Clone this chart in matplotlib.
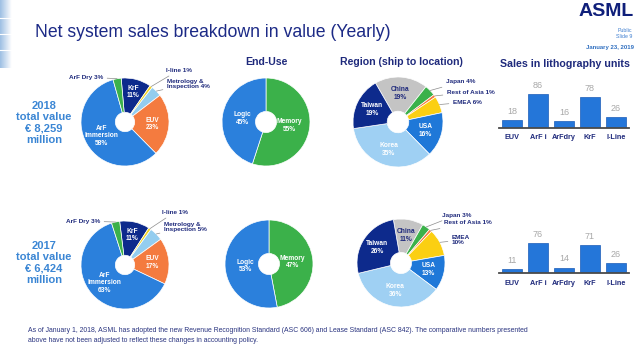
import matplotlib
matplotlib.use("Agg")
import matplotlib.pyplot as plt
import numpy as np

plt.rcParams['font.family'] = ['Liberation Sans', 'DejaVu Sans']

# ---- data ----
tech_labels = ["KrF", "I-line", "Metrology &\nInspection", "EUV", "ArF\nImmersion", "ArF Dry"]
tech_2018 = [11, 1, 4, 23, 58, 3]
tech_2017 = [11, 1, 5, 17, 63, 3]

end_labels = ["Memory", "Logic"]
end_2018 = [55, 45]
end_2017 = [47, 53]

region_labels = ["China", "Japan", "Rest of Asia", "EMEA", "USA", "Korea", "Taiwan"]
region_2018 = [19, 4, 1, 6, 16, 35, 19]
region_2017 = [11, 3, 1, 10, 13, 36, 26]

litho_types = ["EUV", "ArF i", "ArFdry", "KrF", "I-Line"]
units_2018 = [18, 86, 16, 78, 26]
units_2017 = [11, 76, 14, 71, 26]

totals = {"2018": "€ 8,259", "2017": "€ 6,424"}

# ---- colours ----
NAVY = '#1f2a7c'
TITLE = '#1c2a86'
YEARBLUE = '#3b86d4'
tech_colors = ['#0d2a8c', '#f2d21e', '#93cdef', '#f47b3f', '#2b80dc', '#3bb14a']
end_colors = ['#3bb14a', '#2b80dc']
region_colors = ['#c4c4c4', '#3bb14a', '#f47b3f', '#fbcf12', '#1f78d8', '#9fd0f3', '#0d2a8c']
BAR = '#2476d9'
BAR_EDGE = '#1a5cb8'
LEADER = '#8c8c8c'

W, H = 640, 346
fig = plt.figure(figsize=(6.4, 3.46), dpi=100)
bg = fig.add_axes([0, 0, 1, 1])

# faint blue strip at the left edge of the slide
grad = np.linspace(0, 1, 20)[None, :] * np.ones((40, 1))
bg.imshow(grad, extent=(0, 12, 68, 0), cmap=matplotlib.colors.LinearSegmentedColormap.from_list('s', ['#9fc0e4', '#ffffff']), aspect='auto')
for yy in [18, 34, 50]:
    bg.plot([0, 12], [yy, yy], color='white', lw=0.8)
bg.set_xlim(0, W)
bg.set_ylim(H, 0)
bg.axis('off')


def px_axes(x0, y0, w, h):
    return fig.add_axes([x0 / W, 1 - (y0 + h) / H, w / W, h / H])


def mid_point(w, r):
    a = np.deg2rad((w.theta1 + w.theta2) / 2)
    return r * np.cos(a), r * np.sin(a)


def donut(cx, cy, r, values, colors, start, hole=0.24):
    ax = px_axes(cx - r, cy - r, 2 * r, 2 * r)
    wedges, _ = ax.pie(values, colors=colors, startangle=start, counterclock=False, radius=1,
                       wedgeprops=dict(width=1 - hole, edgecolor='white', linewidth=0.5))
    ax.set_xlim(-1, 1)
    ax.set_ylim(-1, 1)
    ax.axis('off')
    return ax, wedges


def inside(ax, w, text, r, color='white', fs=4.8):
    x, y = mid_point(w, r)
    ax.text(x, y, text, ha='center', va='center', fontsize=fs, fontweight='bold',
            color=color, linespacing=1.1)


def outside(ax, w, text, tx, ty, ha='left'):
    x, y = mid_point(w, 1.0)
    ax.annotate(text, (x, y), xytext=(tx, H - ty), textcoords='figure pixels',
                ha=ha, va='center', fontsize=4.6, fontweight='bold', color=NAVY,
                linespacing=1.15, annotation_clip=False,
                arrowprops=dict(arrowstyle='-', color=LEADER, lw=0.5, shrinkA=1, shrinkB=0))


def tech_donut(cy, values, start, out_pos):
    ax, ws = donut(125, cy, 44, values, tech_colors, start, hole=0.22)
    for i, (w, lab, v) in enumerate(zip(ws, tech_labels, values)):
        if i in out_pos:
            tx, ty, ha = out_pos[i]
            outside(ax, w, f"{lab} {v}%", tx, ty, ha)
        else:
            rr = 0.7 if lab == "KrF" else 0.62
            inside(ax, w, f"{lab}\n{v}%", rr)


def end_donut(cx, cy, values):
    ax, ws = donut(cx, cy, 44, values, end_colors, 90)
    for w, lab, v in zip(ws, end_labels, values):
        inside(ax, w, f"{lab}\n{v}%", 0.54)


def region_donut(cx, cy, r, values, start, out_pos, emea_break=False):
    ax, ws = donut(cx, cy, r, values, region_colors, start)
    for i, (w, lab, v) in enumerate(zip(ws, region_labels, values)):
        if i in out_pos:
            tx, ty = out_pos[i]
            sep = "\n" if (emea_break and lab == "EMEA") else " "
            outside(ax, w, f"{lab}{sep}{v}%", tx, ty)
        else:
            col = NAVY if lab == "China" else 'white'
            inside(ax, w, f"{lab}\n{v}%", 0.64, color=col)


def unit_bars(base_y, values):
    ax = px_axes(499, base_y - 45, 130, 45)
    x = np.arange(len(litho_types))
    ax.bar(x, values, width=0.8, color=BAR, edgecolor=BAR_EDGE, linewidth=0.5)
    ax.set_xlim(-0.5, 4.5)
    ax.set_ylim(0, 115)
    for s in ['top', 'right', 'left']:
        ax.spines[s].set_visible(False)
    ax.spines['bottom'].set_color('#4a4a4a')
    ax.spines['bottom'].set_linewidth(1.3)
    ax.set_yticks([])
    ax.set_xticks(x, litho_types, fontsize=5.2, fontweight='bold', color=NAVY)
    ax.tick_params(axis='x', length=0, pad=5)
    for xi, v in zip(x, values):
        ax.annotate(str(v), (xi, v), xytext=(0, 6.2), textcoords='offset points',
                    ha='center', va='center', fontsize=6.5, color='#a8a8a8')
    ax.patch.set_alpha(0)


# ---- header ----
bg.text(35, 37, "Net system sales breakdown in value (Yearly)", fontsize=12.7, color=TITLE, va='baseline')
bg.text(634, 12, "ASML", fontsize=14, fontweight='bold', color='#0f1f7a', ha='right', va='center')
bg.text(632, 30, "Public", fontsize=3.8, color='#3f7fd0', ha='right', va='center')
bg.text(632, 37, "Slide 9", fontsize=3.8, color='#3f7fd0', ha='right', va='center')
bg.text(634, 47, "January 23, 2019", fontsize=4.3, color='#2f6fc0', ha='right', va='center', fontweight='bold')

bg.text(266, 62, "End-Use", fontsize=7.6, fontweight='bold', color=NAVY, ha='center', va='center')
bg.text(401, 62, "Region (ship to location)", fontsize=7.6, fontweight='bold', color=NAVY, ha='center', va='center')
bg.text(565, 64, "Sales in lithography units", fontsize=7.7, fontweight='bold', color=NAVY, ha='center', va='center')

# ---- year totals ----
bg.text(44, 123, "2018\ntotal value\n" + totals["2018"] + "\nmillion", fontsize=8, fontweight='bold',
        color=YEARBLUE, ha='center', va='center', linespacing=1.2)
bg.text(44, 263, "2017\ntotal value\n" + totals["2017"] + "\nmillion", fontsize=8, fontweight='bold',
        color=YEARBLUE, ha='center', va='center', linespacing=1.2)

# ---- donuts ----
tech_donut(122, tech_2018, 95, {1: (166, 70, 'left'), 2: (167, 84, 'left'), 5: (103, 77, 'right')})
tech_donut(265, tech_2017, 97, {1: (162, 212, 'left'), 2: (164, 227, 'left'), 5: (100, 221, 'right')})

end_donut(266, 122, end_2018)
end_donut(269, 264, end_2017)

region_donut(398, 122, 45, region_2018, 120, {1: (446, 82), 2: (447, 92), 3: (453, 102)})
region_donut(401, 263, 44, region_2017, 100, {1: (442, 215), 2: (444, 223), 3: (452, 240)}, emea_break=True)

# ---- unit bars ----
unit_bars(127.5, units_2018)
unit_bars(273, units_2017)

# ---- footnote ----
bg.text(28, 331, "As of January 1, 2018, ASML has adopted the new Revenue Recognition Standard (ASC 606) and Lease "
        "Standard (ASC 842). The comparative numbers presented", fontsize=4.95, color='#2b3580', va='center')
bg.text(28, 341, "above have not been adjusted to reflect these changes in accounting policy.",
        fontsize=4.95, color='#2b3580', va='center')

fig.savefig("out.png", dpi=100)
